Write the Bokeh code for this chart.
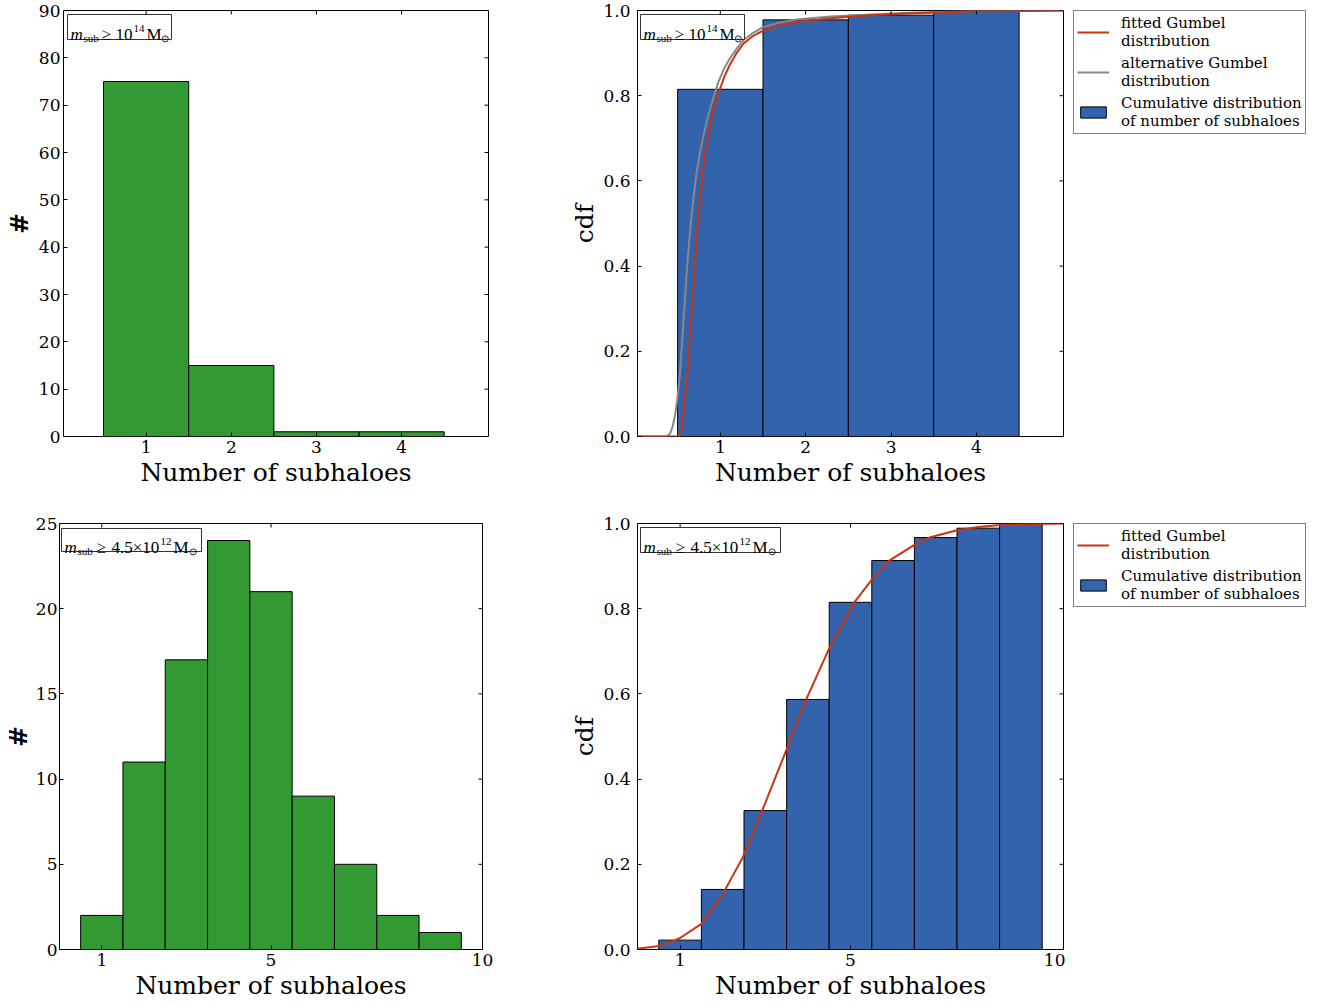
import math
from bokeh.plotting import figure
from bokeh.layouts import row, column
from bokeh.models import (FixedTicker, NumeralTickFormatter, Range1d,
                          Legend, LegendItem, Label)
from bokeh.embed import file_html
from bokeh.resources import INLINE

# ---------------- data ----------------
top_bins = [1, 2, 3, 4]
top_counts = [75, 15, 1, 1]
top_cdf = [0.815, 0.978, 0.989, 1.0]

top_fit_x = [0.03, 0.50, 0.53, 0.55, 0.566, 0.585, 0.605, 0.625, 0.645, 0.665, 0.684, 0.703,
             0.723, 0.742, 0.762, 0.79, 0.82, 0.86, 0.90, 0.95, 1.0, 1.05, 1.11, 1.19, 1.27,
             1.38, 1.50, 1.70, 1.89, 2.29, 2.7, 3.2, 4.0, 5.02]
top_fit_y = [0.0, 0.0, 0.002, 0.02, 0.05, 0.085, 0.128, 0.178, 0.23, 0.29, 0.347, 0.405,
             0.464, 0.512, 0.558, 0.612, 0.66, 0.707, 0.746, 0.787, 0.818, 0.846, 0.872, 0.9,
             0.922, 0.940, 0.953, 0.965, 0.973, 0.982, 0.988, 0.993, 0.998, 1.0]
top_alt_x = [0.03, 0.37, 0.41, 0.44, 0.47, 0.49, 0.51, 0.53, 0.547, 0.566, 0.586, 0.605,
             0.625, 0.655, 0.684, 0.72, 0.762, 0.81, 0.86, 0.92, 0.977, 1.04, 1.11, 1.19,
             1.27, 1.38, 1.50, 1.70, 1.89, 2.29, 2.7, 3.2, 4.0, 5.02]
top_alt_y = [0.0, 0.0, 0.006, 0.022, 0.05, 0.078, 0.112, 0.155, 0.206, 0.265, 0.323, 0.38,
             0.433, 0.5, 0.558, 0.615, 0.667, 0.713, 0.754, 0.795, 0.832, 0.862, 0.887, 0.91,
             0.93, 0.947, 0.961, 0.972, 0.979, 0.986, 0.99, 0.995, 0.999, 1.0]

bot_bins = [1, 2, 3, 4, 5, 6, 7, 8, 9]
bot_counts = [2, 11, 17, 24, 21, 9, 5, 2, 1]
bot_cdf = [0.022, 0.141, 0.326, 0.587, 0.815, 0.913, 0.967, 0.989, 1.0]

bot_fit_x = [0.0, 0.5, 0.82, 1.0, 1.5, 2.0, 2.47, 2.92, 3.5, 3.95, 4.5, 5.09, 5.5, 5.91,
             6.5, 6.85, 7.5, 8.0, 8.57, 9.2, 10.0]
bot_fit_y = [0.002, 0.008, 0.019, 0.027, 0.06, 0.13, 0.216, 0.324, 0.47, 0.585, 0.707, 0.815,
             0.868, 0.913, 0.95, 0.967, 0.984, 0.992, 0.997, 0.999, 1.0]

top_xticks = [1, 2, 3, 4]
top_count_yticks = [0, 10, 20, 30, 40, 50, 60, 70, 80, 90]
bot_xticks = [1, 5, 10]
bot_count_yticks = [0, 5, 10, 15, 20, 25]
cdf_yticks = [0.0, 0.2, 0.4, 0.6, 0.8, 1.0]

GREEN = "#339933"
BLUE = "#3363ac"
RED = "#cc3311"
GREY = "#888888"
SERIF = "DejaVu Serif"
MATH = "Liberation Serif"
XLAB = "Number of subhaloes"


def make_fig(w, h, xr, yr, bl, br, bt, bb):
    p = figure(width=w, height=h, x_range=Range1d(*xr), y_range=Range1d(*yr),
               output_backend="svg", toolbar_location=None,
               min_border_left=bl, min_border_right=br, min_border_top=bt, min_border_bottom=bb)
    p.grid.visible = False
    p.outline_line_color = "black"
    p.outline_line_width = 1
    p.outline_line_alpha = 1
    p.background_fill_color = "white"
    p.border_fill_color = "white"
    return p


def style_axis(ax, ticks, fmt=None):
    ax.ticker = FixedTicker(ticks=ticks, minor_ticks=[])
    ax.major_tick_in = 4
    ax.major_tick_out = 0
    ax.minor_tick_in = 0
    ax.minor_tick_out = 0
    ax.axis_line_color = None
    ax.major_tick_line_color = "black"
    ax.major_tick_line_width = 1
    ax.major_label_text_font = SERIF
    ax.major_label_text_font_size = "17px"
    ax.major_label_text_color = "black"
    ax.axis_label_text_font = SERIF
    ax.axis_label_text_font_size = "25px"
    ax.axis_label_text_font_style = "normal"
    ax.axis_label_text_color = "black"
    if fmt is not None:
        ax.formatter = fmt


def frame_axes(p, xticks, yticks, xlabel, ylabel, yfmt=None, count=False, tight=False):
    style_axis(p.xaxis[0], xticks)
    style_axis(p.yaxis[0], yticks, fmt=yfmt)
    p.xaxis[0].axis_label = xlabel
    p.yaxis[0].axis_label = ylabel
    p.xaxis[0].major_label_standoff = 4
    p.xaxis[0].axis_label_standoff = 2
    if count:
        p.yaxis[0].axis_label_text_font_style = "bold"
        p.yaxis[0].major_label_standoff = 2 if tight else 3
        p.yaxis[0].axis_label_standoff = 0 if tight else 2
    else:
        p.yaxis[0].major_label_standoff = 7
        p.yaxis[0].axis_label_standoff = 1
    # inward ticks on the top and right spines
    p.ray(x=xticks, y=[p.y_range.end] * len(xticks), length=4, length_units="screen",
          angle=-math.pi / 2, line_color="black", line_width=1)
    p.ray(x=[p.x_range.end] * len(yticks), y=yticks, length=4, length_units="screen",
          angle=math.pi, line_color="black", line_width=1)


def annotate(p, pieces, box_dx, box_dy, box_w, box_h):
    x0 = p.x_range.start
    y0 = p.y_range.end
    p.add_layout(Label(x=x0, y=y0, x_offset=box_dx, y_offset=-box_dy, text="\u2003",
                       text_font=MATH, text_font_size="10px", anchor="top_left",
                       padding=((box_w - 10) // 2, (box_h - 12) // 2),
                       background_fill_color="white", border_line_color="#333333",
                       border_line_width=1))
    for txt, dx, dy, size, style in pieces:
        p.add_layout(Label(x=x0, y=y0, x_offset=dx, y_offset=-dy, text=txt,
                           text_font=MATH, text_font_size=size, text_font_style=style,
                           text_color="black", text_align="left", text_baseline="alphabetic"))


def pieces_14(s):
    return [("m", s + 7, 24, "17px", "italic"),
            ("sub", s + 20, 27, "11px", "normal"),
            ("\u2265", s + 38, 24, "17px", "normal"),
            ("10", s + 52, 24, "17px", "normal"),
            ("14", s + 70, 18, "11px", "normal"),
            ("M", s + 83, 24, "17px", "normal"),
            ("\u2299", s + 97, 28, "10px", "normal")]


def pieces_45(s):
    return [("m", s + 5, 24, "17px", "italic"),
            ("sub", s + 18, 27, "11px", "normal"),
            ("\u2265", s + 37, 24, "17px", "normal"),
            ("4.5\u00d710", s + 52, 24, "17px", "normal"),
            ("12", s + 101, 18, "11px", "normal"),
            ("M", s + 114, 24, "17px", "normal"),
            ("\u2299", s + 129, 28, "10px", "normal")]


def legend_fig(w, h, top, specs):
    # the legend sits in its own panel to the right of the cdf plot; its renderers hold the
    # same series but lie outside this panel's ranges, so only the legend is seen
    pl = figure(width=w, height=h, x_range=Range1d(-3, -2), y_range=Range1d(-3, -2),
                x_axis_type=None, y_axis_type=None, output_backend="svg", title=None,
                toolbar_location=None, min_border_left=8, min_border_right=0,
                min_border_top=top, min_border_bottom=0)
    pl.outline_line_color = None
    pl.background_fill_color = "white"
    pl.border_fill_color = "white"
    items = []
    for label, kind, color, xs, ys in specs:
        if kind == "line":
            r = pl.line(x=xs, y=ys, line_color=color, line_width=2)
        else:
            r = pl.vbar(x=xs, top=ys, width=1.0, fill_color=color, line_color="black",
                        line_width=1)
        items.append(LegendItem(label=label, renderers=[r]))
    lg = Legend(items=items, location="top_left")
    lg.label_text_font = SERIF
    lg.label_text_font_size = "15px"
    lg.label_text_color = "black"
    lg.label_standoff = 12
    lg.glyph_width = 32
    lg.glyph_height = 14
    lg.spacing = 4
    lg.padding = 3
    lg.margin = 0
    lg.border_line_color = "black"
    lg.border_line_width = 1
    lg.background_fill_color = "white"
    pl.add_layout(lg, "center")
    return pl


# ---------------- top-left ----------------
p1 = make_fig(505, 505, (0.03, 5.02), (0, 90), 63, 17, 10, 69)
p1.vbar(x=top_bins, width=1.0, top=top_counts, bottom=0, fill_color=GREEN,
        line_color="black", line_width=1)
frame_axes(p1, top_xticks, top_count_yticks, XLAB, "#", count=True)
annotate(p1, pieces_14(0), 4, 4, 104, 26)

# ---------------- top-right ----------------
p2 = make_fig(560, 505, (0.03, 5.02), (0, 1), 132, 2, 10, 69)
p2.vbar(x=top_bins, width=1.0, top=top_cdf, bottom=0, fill_color=BLUE,
        line_color="black", line_width=1)
p2.line(top_alt_x, top_alt_y, line_color=GREY, line_width=2)
p2.line(top_fit_x, top_fit_y, line_color=RED, line_width=2)
frame_axes(p2, top_xticks, cdf_yticks, XLAB, "cdf", yfmt=NumeralTickFormatter(format="0.0"))
annotate(p2, pieces_14(-1), 3, 4, 104, 26)
pl2 = legend_fig(265, 505, 10, [
    ("fitted Gumbel\ndistribution", "line", RED, top_fit_x, top_fit_y),
    ("alternative Gumbel\ndistribution", "line", GREY, top_alt_x, top_alt_y),
    ("Cumulative distribution\nof number of subhaloes", "bar", BLUE, top_bins, top_cdf)])

# ---------------- bottom-left ----------------
p3 = make_fig(505, 498, (0, 10), (0, 25), 57, 23, 18, 54)
p3.vbar(x=bot_bins, width=1.0, top=bot_counts, bottom=0, fill_color=GREEN,
        line_color="black", line_width=1)
frame_axes(p3, bot_xticks, bot_count_yticks, XLAB, "#", count=True, tight=True)
annotate(p3, pieces_45(0), 2, 5, 141, 25)

# ---------------- bottom-right ----------------
p4 = make_fig(560, 498, (0, 10), (0, 1), 132, 2, 18, 54)
p4.vbar(x=bot_bins, width=1.0, top=bot_cdf, bottom=0, fill_color=BLUE,
        line_color="black", line_width=1)
p4.line(bot_fit_x, bot_fit_y, line_color=RED, line_width=2)
frame_axes(p4, bot_xticks, cdf_yticks, XLAB, "cdf", yfmt=NumeralTickFormatter(format="0.0"))
annotate(p4, pieces_45(1), 3, 4, 141, 26)
pl4 = legend_fig(265, 498, 18, [
    ("fitted Gumbel\ndistribution", "line", RED, bot_fit_x, bot_fit_y),
    ("Cumulative distribution\nof number of subhaloes", "bar", BLUE, bot_bins, bot_cdf)])

layout = column(row(p1, p2, pl2), row(p3, p4, pl4))
open("out.html", "w").write(file_html(layout, INLINE))
